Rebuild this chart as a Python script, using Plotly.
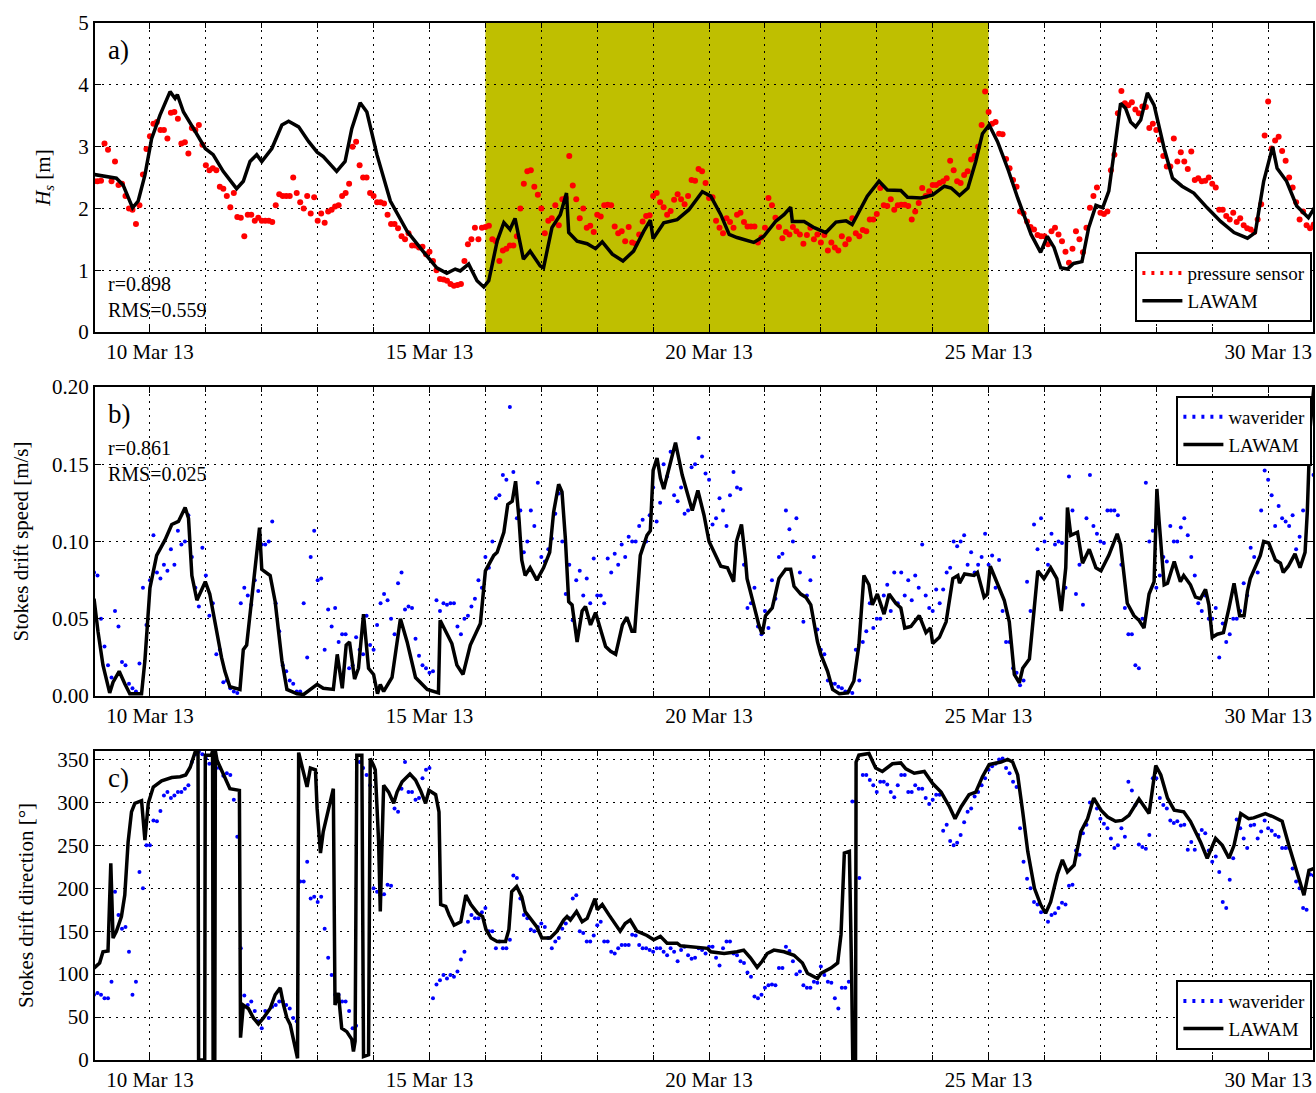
import numpy as np
import pandas as pd
import plotly.graph_objects as go
from plotly.subplots import make_subplots

# ---------------- data (day of March 2013, value) ----------------
lawam_hs_day = [9.0, 9.2, 9.4, 9.52, 9.69, 9.79, 9.91, 10.03, 10.18, 10.36, 10.45, 10.49, 10.6, 10.78, 10.99,
                11.13, 11.31, 11.55, 11.67, 11.79, 11.91, 12.0, 12.18, 12.36, 12.48, 12.66, 12.84, 12.99, 13.1,
                13.34, 13.49, 13.61, 13.76, 13.88, 14.06, 14.3, 14.6, 14.9, 15.13, 15.31, 15.46, 15.55, 15.7,
                15.85, 15.97, 16.06, 16.21, 16.33, 16.44, 16.53, 16.68, 16.8, 16.98, 17.04, 17.19, 17.34, 17.45,
                17.49, 17.64, 17.82, 17.97, 18.09, 18.27, 18.46, 18.65, 18.83, 18.95, 19.0, 19.19, 19.43, 19.64,
                19.88, 20.03, 20.21, 20.36, 20.5, 20.8, 20.98, 21.19, 21.34, 21.46, 21.49, 21.7, 21.88, 22.09,
                22.27, 22.45, 22.56, 22.83, 23.04, 23.19, 23.43, 23.55, 23.79, 24.0, 24.21, 24.33, 24.48, 24.63,
                24.77, 24.89, 25.01, 25.16, 25.34, 25.52, 25.76, 25.93, 26.05, 26.17, 26.29, 26.41, 26.52, 26.67,
                26.79, 26.92, 27.04, 27.15, 27.27, 27.36, 27.45, 27.54, 27.63, 27.72, 27.84, 27.96, 28.14, 28.29,
                28.46, 28.67, 28.91, 29.15, 29.39, 29.63, 29.77, 29.92, 30.08, 30.16, 30.33, 30.51, 30.72, 30.86]
lawam_hs_val = [2.55, 2.52, 2.49, 2.38, 2.01, 2.12, 2.54, 3.13, 3.51, 3.89, 3.78, 3.84, 3.56, 3.29, 2.97,
                2.87, 2.6, 2.32, 2.44, 2.76, 2.87, 2.76, 2.97, 3.35, 3.41, 3.32, 3.08, 2.91, 2.84,
                2.6, 2.76, 3.29, 3.71, 3.56, 2.87, 2.12, 1.63, 1.29, 1.04, 0.95, 1.02, 0.99, 1.10,
                0.83, 0.73, 0.83, 1.47, 1.77, 1.66, 1.84, 1.18, 1.31, 1.07, 1.04, 1.69, 1.9, 2.25,
                1.61, 1.47, 1.43, 1.35, 1.46, 1.26, 1.15, 1.31, 1.63, 1.81, 1.51, 1.77, 1.82, 1.98,
                2.27, 2.2, 1.9, 1.58, 1.53, 1.45, 1.55, 1.79, 1.9, 2.02, 1.79, 1.79, 1.69, 1.61,
                1.78, 1.8, 1.74, 2.2, 2.44, 2.3, 2.29, 2.18, 2.17, 2.22, 2.36, 2.33, 2.21, 2.33,
                2.76, 3.21, 3.35, 3.08, 2.65, 2.17, 1.58, 1.29, 1.55, 1.37, 1.04, 1.02, 1.11, 1.14,
                1.69, 2.05, 2.01, 2.28, 3.08, 3.7, 3.62, 3.4, 3.32, 3.43, 3.87, 3.67, 2.97, 2.49,
                2.36, 2.25, 2.01, 1.79, 1.61, 1.52, 1.61, 2.44, 3.0, 2.65, 2.44, 2.04, 1.85, 2.06]

# pressure sensor Hs, 3-hourly from 9 Mar 00:00 ...
sensor_start_day = 9.0
sensor_hs = [2.44, 2.45, 2.95, 2.76, 2.4, 2.0, 1.75, 2.55,
             3.17, 3.4, 3.27, 3.55, 3.45, 3.07, 3.3, 3.35,
             2.7, 2.65, 2.35, 2.2, 2.25, 1.85, 1.9, 1.8,
             1.8, 1.8, 2.05, 2.2, 2.2, 2.25, 2.0, 1.92,
             1.8, 1.77, 1.98, 2.05, 2.25, 3.0, 2.7, 2.5,
             2.2, 2.1, 1.9, 1.75, 1.55, 1.6, 1.4, 1.38,
             1.3, 1.0, 0.85, 0.78, 0.76, 1.15, 1.5, 1.5,
             1.7, 1.5, 1.15, 1.35, 1.4, 2.0, 2.6, 2.35,
             2.0, 1.8, 2.05, 2.15, 2.85, 2.15, 2.0, 1.72,
             1.9, 2.05, 2.05, 1.6, 1.47, 1.45, 1.58, 1.88,
             2.2, 2.1, 1.9, 2.14, 2.15, 2.2, 2.45, 2.6,
             2.17, 1.8, 1.6, 1.78, 1.9, 1.78, 1.71, 1.45,
             1.69, 2.05, 1.7, 1.62, 1.7, 1.58, 1.57, 1.5,
             1.45, 1.32, 1.37, 1.55, 1.5, 1.6, 1.65, 1.82,
             1.91, 2.05, 2.15, 2.05, 2.06, 1.82, 2.09, 2.2,
             2.38, 2.41, 2.49, 2.62, 2.41, 2.6, 2.85, 3.35,
             3.56, 3.4, 3.2, 2.65, 2.35, 1.92, 1.7, 1.57,
             1.55, 1.63, 1.58, 1.3, 1.35, 1.5, 1.69, 2.2,
             1.93, 1.95, 2.87, 3.9, 3.67, 3.6, 3.65, 3.3,
             3.27, 2.85, 2.68, 2.76, 2.76, 2.92, 2.49, 2.45,
             2.4, 1.98, 1.88, 1.93, 1.84, 1.68, 1.62, 2.07,
             3.73, 3.1, 2.93, 2.5, 2.1, 1.95, 1.68]
# ... and 3-hourly from 9 Mar 01:30
sensor_mid_start_day = 9.0625
sensor_hs_mid = [2.44, 3.05, 2.44, 2.38, 2.2, 1.98, 2.05, 2.96,
                 3.37, 3.27, 3.13, 3.56, 3.05, 2.89, 3.27, 3.03,
                 2.62, 2.62, 2.32, 2.02, 1.86, 1.55, 1.9, 1.85,
                 1.8, 1.78, 2.23, 2.2, 2.5, 2.1, 2.2, 2.18,
                 1.92, 1.95, 2.03, 2.2, 2.4, 3.08, 2.5, 2.25,
                 2.1, 2.08, 1.75, 1.68, 1.5, 1.4, 1.37, 1.26,
                 1.15, 0.86, 0.83, 0.75, 0.78, 1.42, 1.69, 1.69,
                 1.72, 1.47, 1.32, 1.4, 1.55, 2.4, 2.62, 2.22,
                 1.6, 1.84, 1.73, 2.17, 2.37, 1.84, 1.69, 1.62,
                 1.87, 2.06, 1.71, 1.63, 1.7, 1.43, 1.79, 1.89,
                 2.25, 2.02, 1.96, 2.23, 2.07, 2.46, 2.64, 2.41,
                 2.18, 1.69, 1.84, 1.69, 1.93, 1.71, 1.71, 1.53,
                 2.17, 1.85, 1.52, 1.58, 1.63, 1.43, 1.69, 1.58,
                 1.57, 1.45, 1.32, 1.42, 1.84, 1.55, 1.63, 1.82,
                 2.33, 2.04, 1.98, 2.06, 2.04, 1.95, 2.33, 2.28,
                 2.38, 2.44, 2.77, 2.44, 2.54, 2.79, 3.0, 3.89,
                 3.37, 3.21, 2.8, 2.46, 1.95, 1.79, 1.66, 1.55,
                 1.42, 1.69, 1.47, 1.12, 1.63, 1.29, 2.01, 2.34,
                 1.91, 2.62, 3.54, 3.7, 3.72, 3.54, 3.64, 3.37,
                 3.11, 2.68, 3.13, 2.91, 2.64, 2.46, 2.44, 2.5,
                 2.34, 1.98, 1.82, 1.78, 1.73, 1.66, 1.82, 3.18,
                 2.97, 3.16, 2.77, 2.34, 1.82, 1.73, 1.74]

lawam_sp_day = [9.0, 9.07, 9.16, 9.28, 9.34, 9.45, 9.55, 9.64, 9.85, 9.91, 10.0, 10.12, 10.27, 10.39, 10.51,
                10.63, 10.69, 10.75, 10.84, 10.99, 11.07, 11.16, 11.28, 11.34, 11.43, 11.61, 11.67, 11.73,
                11.85, 11.96, 12.0, 12.15, 12.24, 12.36, 12.45, 12.63, 12.75, 12.99, 13.1, 13.28, 13.35,
                13.44, 13.51, 13.57, 13.66, 13.73, 13.82, 13.91, 14.0, 14.07, 14.12, 14.18, 14.33, 14.48,
                14.6, 14.75, 14.96, 15.16, 15.19, 15.28, 15.4, 15.49, 15.6, 15.73, 15.91, 16.0, 16.15,
                16.21, 16.33, 16.4, 16.48, 16.54, 16.6, 16.65, 16.71, 16.8, 16.92, 17.04, 17.15, 17.22,
                17.31, 17.37, 17.43, 17.49, 17.55, 17.64, 17.73, 17.79, 17.88, 17.97, 18.03, 18.15, 18.24,
                18.33, 18.45, 18.53, 18.62, 18.67, 18.77, 18.89, 18.95, 19.0, 19.07, 19.13, 19.19, 19.28,
                19.4, 19.52, 19.61, 19.7, 19.8, 19.91, 20.0, 20.09, 20.21, 20.33, 20.44, 20.49, 20.58,
                20.65, 20.68, 20.8, 20.89, 20.95, 21.01, 21.13, 21.25, 21.37, 21.46, 21.52, 21.64, 21.73,
                21.82, 21.94, 22.0, 22.12, 22.21, 22.33, 22.48, 22.59, 22.68, 22.77, 22.86, 22.92, 23.01,
                23.13, 23.22, 23.34, 23.43, 23.5, 23.61, 23.76, 23.88, 23.96, 24.0, 24.12, 24.24, 24.36,
                24.45, 24.48, 24.57, 24.74, 24.8, 24.92, 24.98, 25.03, 25.1, 25.19, 25.28, 25.37, 25.46,
                25.55, 25.61, 25.73, 25.82, 25.88, 25.99, 26.11, 26.22, 26.3, 26.38, 26.41, 26.47, 26.59,
                26.68, 26.8, 26.92, 27.01, 27.15, 27.3, 27.36, 27.48, 27.6, 27.69, 27.78, 27.87, 27.96,
                28.01, 28.05, 28.14, 28.2, 28.32, 28.43, 28.49, 28.61, 28.7, 28.79, 28.88, 28.94, 29.0,
                29.09, 29.2, 29.3, 29.39, 29.49, 29.57, 29.63, 29.68, 29.74, 29.86, 29.92, 30.01, 30.13,
                30.22, 30.27, 30.36, 30.48, 30.57, 30.66, 30.7, 30.75, 30.82]
lawam_sp_val = [0.063, 0.042, 0.020, 0.002, 0.009, 0.016, 0.008, 0.0015, 0.0015, 0.023, 0.07, 0.091, 0.101,
                0.111, 0.113, 0.122, 0.115, 0.078, 0.062, 0.074, 0.066, 0.048, 0.025, 0.016, 0.006, 0.0043,
                0.030, 0.033, 0.074, 0.109, 0.082, 0.078, 0.061, 0.023, 0.0043, 0.0015, 0.001, 0.0075,
                0.005, 0.0043, 0.027, 0.005, 0.033, 0.035, 0.011, 0.018, 0.053, 0.018, 0.014, 0.0015,
                0.0075, 0.003, 0.012, 0.05, 0.035, 0.012, 0.0043, 0.002, 0.049, 0.042, 0.034, 0.020, 0.014,
                0.033, 0.047, 0.081, 0.091, 0.093, 0.106, 0.124, 0.126, 0.139, 0.115, 0.088, 0.078, 0.083,
                0.075, 0.083, 0.093, 0.119, 0.137, 0.132, 0.102, 0.061, 0.059, 0.035, 0.055, 0.058, 0.046,
                0.054, 0.046, 0.032, 0.029, 0.027, 0.046, 0.051, 0.042, 0.042, 0.091, 0.104, 0.107, 0.146,
                0.154, 0.141, 0.134, 0.147, 0.164, 0.143, 0.132, 0.120, 0.133, 0.117, 0.100, 0.093, 0.084,
                0.083, 0.074, 0.100, 0.111, 0.089, 0.076, 0.059, 0.046, 0.040, 0.052, 0.057, 0.076, 0.082,
                0.082, 0.071, 0.066, 0.064, 0.059, 0.035, 0.027, 0.016, 0.0043, 0.0015, 0.002, 0.0097,
                0.033, 0.078, 0.072, 0.059, 0.066, 0.053, 0.066, 0.060, 0.057, 0.044, 0.045, 0.052, 0.041,
                0.044, 0.034, 0.038, 0.048, 0.076, 0.078, 0.073, 0.079, 0.078, 0.080, 0.064, 0.066, 0.084,
                0.078, 0.069, 0.062, 0.048, 0.014, 0.0086, 0.018, 0.024, 0.057, 0.081, 0.076, 0.083, 0.076,
                0.055, 0.083, 0.122, 0.104, 0.106, 0.086, 0.095, 0.083, 0.081, 0.091, 0.105, 0.098, 0.060,
                0.052, 0.049, 0.044, 0.066, 0.074, 0.134, 0.113, 0.072, 0.073, 0.087, 0.074, 0.078, 0.072,
                0.064, 0.063, 0.069, 0.059, 0.038, 0.040, 0.041, 0.057, 0.073, 0.052, 0.052, 0.068, 0.076,
                0.081, 0.091, 0.1, 0.099, 0.088, 0.086, 0.080, 0.084, 0.092, 0.083, 0.093, 0.119, 0.173,
                0.201]

# waverider Stokes drift speed, 3-hourly from 9 Mar 00:00 ...
wr_start_day = 9.0
wr_speed = [0.08, 0.05, 0.02, 0.055, 0.022, 0.008, 0.003, 0.07,
            0.075, 0.08, 0.085, 0.095, 0.107, 0.1, 0.09, 0.058,
            0.078, 0.06, 0.03, 0.01, 0.003, 0.06, 0.065, 0.075,
            0.098, 0.1, 0.06, 0.02, 0.01, 0.003, 0.06, 0.09,
            0.075, 0.03, 0.045, 0.035, 0.04, 0.02, 0.03, 0.052,
            0.03, 0.06, 0.062, 0.04, 0.08, 0.058, 0.037, 0.02,
            0.015, 0.062, 0.06, 0.06, 0.045, 0.05, 0.058, 0.075,
            0.09, 0.1, 0.13, 0.14, 0.145, 0.12, 0.1, 0.11,
            0.09, 0.095, 0.118, 0.1, 0.085, 0.075, 0.065, 0.06,
            0.065, 0.06, 0.08, 0.085, 0.09, 0.1, 0.11, 0.1,
            0.135, 0.125, 0.142, 0.13, 0.135, 0.12, 0.15, 0.155,
            0.14, 0.115, 0.12, 0.13, 0.135, 0.085, 0.06, 0.045,
            0.055, 0.075, 0.09, 0.12, 0.1, 0.08, 0.065, 0.09,
            0.03, 0.01, 0.008, 0.005, 0.003, 0.03, 0.035, 0.06,
            0.05, 0.065, 0.055, 0.06, 0.065, 0.062, 0.07, 0.065,
            0.055, 0.06, 0.08, 0.1, 0.1, 0.085, 0.08, 0.09,
            0.085, 0.07, 0.055, 0.035, 0.015, 0.01, 0.055, 0.095,
            0.1, 0.105, 0.1, 0.07, 0.12, 0.085, 0.115, 0.11,
            0.1, 0.12, 0.12, 0.085, 0.04, 0.02, 0.05, 0.1,
            0.07, 0.09, 0.11, 0.1, 0.115, 0.09, 0.06, 0.065,
            0.05, 0.025, 0.035, 0.05, 0.055, 0.065, 0.09, 0.12,
            0.14, 0.11, 0.115, 0.11, 0.095, 0.12, 0.155]
# ... and 3-hourly from 9 Mar 01:30
wr_mid_start_day = 9.0625
wr_speed_mid = [0.078, 0.032, 0.012, 0.045, 0.02, 0.005, 0.021, 0.046,
                0.104, 0.076, 0.081, 0.085, 0.098, 0.117, 0.07, 0.096,
                0.052, 0.027, 0.009, 0.005, 0.002, 0.07, 0.059, 0.068,
                0.098, 0.113, 0.042, 0.016, 0.008, 0.003, 0.025, 0.107,
                0.076, 0.056, 0.057, 0.04, 0.018, 0.038, 0.027, 0.033,
                0.046, 0.066, 0.05, 0.073, 0.056, 0.057, 0.026, 0.018,
                0.016, 0.055, 0.059, 0.06, 0.04, 0.052, 0.063, 0.07,
                0.083, 0.128, 0.143, 0.187, 0.115, 0.093, 0.12, 0.138,
                0.087, 0.102, 0.131, 0.066, 0.049, 0.081, 0.076, 0.089,
                0.065, 0.089, 0.092, 0.098, 0.103, 0.1, 0.114, 0.117,
                0.113, 0.15, 0.158, 0.126, 0.118, 0.148, 0.167, 0.144,
                0.111, 0.128, 0.11, 0.145, 0.134, 0.057, 0.07, 0.04,
                0.044, 0.063, 0.092, 0.108, 0.115, 0.048, 0.075, 0.043,
                0.027, 0.008, 0.006, 0.003, 0.002, 0.01, 0.042, 0.044,
                0.05, 0.072, 0.08, 0.08, 0.075, 0.078, 0.098, 0.057,
                0.069, 0.069, 0.083, 0.097, 0.104, 0.093, 0.085, 0.105,
                0.091, 0.088, 0.035, 0.018, 0.007, 0.074, 0.111, 0.115,
                0.085, 0.098, 0.099, 0.142, 0.066, 0.059, 0.143, 0.105,
                0.099, 0.12, 0.117, 0.057, 0.04, 0.018, 0.138, 0.107,
                0.078, 0.087, 0.1, 0.109, 0.104, 0.078, 0.055, 0.05,
                0.057, 0.047, 0.04, 0.05, 0.073, 0.096, 0.08, 0.146,
                0.13, 0.123, 0.113, 0.117, 0.103, 0.171, 0.143]

lawam_dir_day = [9.0, 9.1, 9.16, 9.25, 9.3, 9.34, 9.4, 9.49, 9.55, 9.61, 9.67, 9.73, 9.85, 9.91, 9.97, 10.06,
                 10.21, 10.39, 10.54, 10.64, 10.72, 10.81, 10.86, 10.87, 10.98, 10.99, 11.1, 11.12, 11.13,
                 11.16, 11.17, 11.2, 11.32, 11.43, 11.6, 11.62, 11.67, 11.76, 11.85, 11.94, 12.03, 12.15,
                 12.24, 12.33, 12.39, 12.45, 12.51, 12.64, 12.66, 12.75, 12.81, 12.87, 12.96, 12.99, 13.05,
                 13.1, 13.19, 13.28, 13.31, 13.37, 13.43, 13.52, 13.61, 13.64, 13.67, 13.7, 13.79, 13.82,
                 13.91, 13.94, 14.0, 14.03, 14.09, 14.12, 14.15, 14.18, 14.27, 14.36, 14.42, 14.51, 14.65,
                 14.75, 14.84, 14.93, 14.99, 15.11, 15.17, 15.2, 15.29, 15.35, 15.44, 15.56, 15.65, 15.74,
                 15.86, 15.95, 16.01, 16.1, 16.21, 16.36, 16.42, 16.47, 16.56, 16.65, 16.71, 16.83, 16.92,
                 17.01, 17.16, 17.28, 17.4, 17.46, 17.52, 17.63, 17.73, 17.82, 17.91, 17.96, 18.0, 18.09,
                 18.21, 18.33, 18.41, 18.5, 18.59, 18.71, 18.89, 19.01, 19.13, 19.25, 19.43, 19.49, 19.67,
                 19.97, 20.03, 20.27, 20.5, 20.62, 20.74, 20.86, 20.95, 21.04, 21.16, 21.34, 21.52, 21.67,
                 21.76, 21.94, 22.0, 22.12, 22.18, 22.3, 22.36, 22.42, 22.51, 22.55, 22.57, 22.62, 22.63,
                 22.68, 22.86, 22.98, 23.1, 23.28, 23.43, 23.52, 23.67, 23.85, 24.0, 24.15, 24.3, 24.4,
                 24.51, 24.65, 24.77, 24.89, 25.01, 25.22, 25.34, 25.43, 25.52, 25.61, 25.7, 25.82, 25.93,
                 26.02, 26.11, 26.23, 26.32, 26.41, 26.53, 26.65, 26.77, 26.88, 27.01, 27.13, 27.27, 27.39,
                 27.51, 27.69, 27.81, 27.87, 27.99, 28.08, 28.2, 28.32, 28.49, 28.61, 28.79, 28.91, 29.06,
                 29.18, 29.3, 29.39, 29.51, 29.65, 29.74, 29.95, 30.1, 30.25, 30.37, 30.52, 30.64, 30.73,
                 30.86]
lawam_dir_val = [107, 113, 126, 127, 229, 142, 150, 167, 192, 254, 289, 299, 302, 256, 299, 318,
                 325, 329, 330, 332, 341, 359, 359, 0, 0, 355, 355, 360, 0,
                 0, 360, 349, 332, 316, 314, 26, 64, 60, 49, 42, 49, 60,
                 76, 84, 64, 49, 41, 2, 358, 336, 318, 340, 338, 293, 241,
                 266, 289, 316, 64, 78, 37, 33, 24, 10, 22, 355, 355, 4,
                 6, 351, 343, 338, 254, 173, 250, 320, 312, 299, 312, 324, 333,
                 326, 314, 299, 314, 309, 289, 181, 179, 169, 157, 161, 192, 181,
                 171, 167, 152, 142, 138, 138, 152, 196, 202, 190, 173, 163, 155,
                 142, 142, 150, 163, 167, 163, 173, 161, 165, 181, 188, 175, 181,
                 169, 157, 150, 159, 163, 150, 145, 140, 144, 136, 136, 133, 132,
                 130, 126, 124, 126, 128, 119, 108, 115, 124, 128, 126, 122, 113,
                 101, 95, 101, 105, 107, 113, 146, 241, 243, 100, 2, 2, 347,
                 355, 357, 340, 336, 345, 346, 339, 334, 336, 322, 312, 295, 281,
                 295, 309, 312, 330, 344, 347, 350, 347, 332, 289, 243, 200, 181,
                 171, 184, 216, 233, 219, 227, 266, 281, 305, 291, 283, 278, 279,
                 285, 304, 293, 287, 343, 332, 305, 291, 289, 278, 254, 235, 258,
                 250, 235, 250, 287, 281, 282, 287, 283, 278, 250, 216, 192, 221,
                 224]

# waverider Stokes drift direction, 3-hourly from 9 Mar 00:00 ...
wr_direction = [76, 76, 72, 196, 153, 126, 91, 200,
                250, 278, 308, 305, 312, 316, 347, 359,
                351, 347, 340, 334, 303, 130, 64, 57,
                37, 49, 64, 68, 60, 45, 208, 188,
                184, 153, 99, 76, 68, 37, 347, 332,
                200, 192, 204, 293, 316, 312, 303, 328,
                340, 88, 99, 99, 103, 126, 169, 165,
                177, 150, 138, 130, 215, 188, 165, 150,
                159, 142, 138, 153, 165, 192, 148, 138,
                157, 138, 126, 130, 134, 146, 134, 130,
                126, 130, 122, 126, 128, 122, 119, 128,
                132, 119, 130, 138, 122, 113, 97, 72,
                84, 88, 107, 132, 115, 103, 84, 91,
                109, 91, 72, 84, 91, 301, 332, 326,
                312, 324, 312, 320, 332, 312, 316, 305,
                303, 309, 274, 250, 262, 289, 307, 320,
                338, 345, 351, 334, 318, 231, 200, 181,
                173, 169, 177, 181, 204, 239, 274, 301,
                281, 270, 247, 270, 324, 297, 248, 262,
                328, 297, 279, 278, 274, 254, 262, 264,
                231, 219, 177, 235, 270, 247, 274, 266,
                270, 262, 247, 247, 208, 177, 216]
# ... and 3-hourly from 9 Mar 01:30
wr_direction_mid = [78, 72, 91, 169, 155, 76, 219, 250,
                    279, 290, 312, 308, 312, 320, 356, 356,
                    345, 340, 331, 332, 260, 75, 68, 45,
                    57, 62, 68, 64, 49, 208, 231, 190,
                    190, 119, 76, 68, 57, 40, 340, 320,
                    196, 193, 203, 289, 347, 312, 305, 338,
                    72, 93, 95, 97, 117, 161, 165, 172,
                    150, 130, 130, 140, 212, 169, 152, 155,
                    155, 130, 142, 159, 188, 150, 138, 145,
                    161, 138, 124, 134, 134, 145, 130, 128,
                    130, 126, 130, 115, 132, 118, 130, 124,
                    132, 110, 138, 124, 115, 102, 74, 76,
                    87, 87, 107, 127, 100, 87, 84, 90,
                    99, 90, 60, 84, 301, 212, 332, 320,
                    324, 321, 306, 332, 312, 320, 316, 298,
                    309, 267, 255, 253, 277, 293, 312, 328,
                    342, 350, 340, 324, 270, 211, 184, 172,
                    161, 171, 183, 203, 244, 264, 300, 293,
                    275, 258, 250, 260, 314, 251, 246, 328,
                    305, 293, 276, 273, 245, 245, 268, 244,
                    237, 184, 210, 280, 258, 273, 258, 279,
                    267, 260, 247, 223, 200, 175, 215]

stats_a = "r=0.898<br>RMS=0.559"
stats_b = "r=0.861<br>RMS=0.025"
shade_start, shade_end = "2013-03-16", "2013-03-25"
x_ticks = ["2013-03-10", "2013-03-15", "2013-03-20", "2013-03-25", "2013-03-30"]

# ---------------- helpers ----------------
BASE = pd.Timestamp("2013-03-01")


def to_time(days):
    return BASE + pd.to_timedelta(np.asarray(days, dtype=float) - 1.0, unit="D")


def regular_time(start_day, n, step_h=3):
    return BASE + pd.to_timedelta(start_day - 1.0, unit="D") + pd.to_timedelta(np.arange(n) * step_h, unit="h")


def both(start_a, vals_a, start_b, vals_b):
    t = list(regular_time(start_a, len(vals_a))) + list(regular_time(start_b, len(vals_b)))
    return t, list(vals_a) + list(vals_b)


FONT = "Liberation Serif, Times New Roman, serif"
LW = 3.5

fig = make_subplots(rows=3, cols=1, shared_xaxes=False, vertical_spacing=0.0)

# Panel a
xs, ys = both(sensor_start_day, sensor_hs, sensor_mid_start_day, sensor_hs_mid)
fig.add_trace(go.Scatter(x=xs, y=ys, mode="markers", marker=dict(color="#ff0000", size=6),
                         showlegend=False), row=1, col=1)
fig.add_trace(go.Scatter(x=to_time(lawam_hs_day), y=lawam_hs_val, mode="lines",
                         line=dict(color="black", width=LW), showlegend=False), row=1, col=1)
# Panel b
xs, ys = both(wr_start_day, wr_speed, wr_mid_start_day, wr_speed_mid)
fig.add_trace(go.Scatter(x=xs, y=ys, mode="markers", marker=dict(color="#0000ff", size=4),
                         showlegend=False), row=2, col=1)
fig.add_trace(go.Scatter(x=to_time(lawam_sp_day), y=lawam_sp_val, mode="lines",
                         line=dict(color="black", width=LW), showlegend=False), row=2, col=1)
# Panel c
xs, ys = both(wr_start_day, wr_direction, wr_mid_start_day, wr_direction_mid)
fig.add_trace(go.Scatter(x=xs, y=ys, mode="markers", marker=dict(color="#0000ff", size=4),
                         showlegend=False), row=3, col=1)
fig.add_trace(go.Scatter(x=to_time(lawam_dir_day), y=lawam_dir_val, mode="lines",
                         line=dict(color="black", width=LW), showlegend=False), row=3, col=1)

# legend entries
for lg, name, col, row in [("legend", "pressure sensor", "#ff0000", 1),
                           ("legend2", "waverider", "#0000ff", 2),
                           ("legend3", "waverider", "#0000ff", 3)]:
    fig.add_trace(go.Scatter(x=[None], y=[None], mode="lines", name=name, legend=lg,
                             line=dict(color=col, width=4, dash="3px,6px")), row=row, col=1)
    fig.add_trace(go.Scatter(x=[None], y=[None], mode="lines", name="LAWAM", legend=lg,
                             line=dict(color="black", width=LW)), row=row, col=1)

# layout
plot_top, plot_bottom = 23, 1063
H = 1093
span = plot_bottom - plot_top


def dom(top_px, bot_px):
    return [(plot_bottom - bot_px) / span, (plot_bottom - top_px) / span]


domains = [dom(23, 333), dom(388, 698), dom(753, 1063)]
x_range = ["2013-03-09 00:25", "2013-03-30 19:15"]
GRID_DASH = "2px,5px"

for i, d in enumerate(domains, start=1):
    fig.update_xaxes(row=i, col=1, range=x_range, type="date",
                     tickvals=x_ticks,
                     tickformat="%-d %b %y", ticks="inside", ticklen=6, tickwidth=1, tickcolor="black",
                     showline=True, linecolor="black", linewidth=2, mirror="allticks",
                     showgrid=True, gridcolor="black", griddash=GRID_DASH, gridwidth=1,
                     minor=dict(dtick=86400000, tick0="2013-03-01", showgrid=True, gridcolor="black",
                                griddash=GRID_DASH, gridwidth=1, ticks="inside", ticklen=5, tickcolor="black"),
                     tickfont=dict(family=FONT, size=21, color="black"), zeroline=False)
    fig.update_yaxes(row=i, col=1, domain=d, ticks="inside", ticklen=6, tickcolor="black",
                     showline=True, linecolor="black", linewidth=2, mirror="allticks",
                     showgrid=True, gridcolor="black", griddash=GRID_DASH, gridwidth=1,
                     tickfont=dict(family=FONT, size=21, color="black"), zeroline=False,
                     title_font=dict(family=FONT, size=21, color="black"))

fig.update_yaxes(row=1, col=1, range=[0, 5], dtick=1, title_text="<i>H<sub>s</sub></i> [m]", title_standoff=22)
fig.update_yaxes(row=2, col=1, range=[0, 0.2], dtick=0.05, tickformat=".2f",
                 title_text="Stokes drift speed [m/s]", title_standoff=18)
fig.update_yaxes(row=3, col=1, range=[0, 360], tickvals=[0, 50, 100, 150, 200, 250, 300, 350],
                 title_text="Stokes drift direction [°]", title_standoff=18)

# shaded period
fig.add_shape(type="rect", xref="x", yref="y domain", x0=shade_start, x1=shade_end, y0=0, y1=1,
              fillcolor="#bfbf00", line=dict(width=0), layer="below")

# panel labels and statistics
ann_font = dict(family=FONT, color="black")
for ax, lab, ylab in [("", "a)", 0.913), ("2", "b)", 0.912), ("3", "c)", 0.912)]:
    fig.add_annotation(xref=f"x{ax} domain", yref=f"y{ax} domain", x=0.009, y=ylab, text=lab,
                       showarrow=False, xanchor="left", yanchor="middle", font=dict(size=27, **ann_font))
fig.add_annotation(xref="x domain", yref="y domain", x=0.009, y=0.113, text=stats_a, showarrow=False,
                   xanchor="left", yanchor="middle", align="left", font=dict(size=20, **ann_font))
fig.add_annotation(xref="x2 domain", yref="y2 domain", x=0.009, y=0.76, text=stats_b, showarrow=False,
                   xanchor="left", yanchor="middle", align="left", font=dict(size=20, **ann_font))

leg_common = dict(bgcolor="white", bordercolor="black", borderwidth=2, xanchor="right", x=0.9995,
                  font=dict(family=FONT, size=19, color="black"), tracegroupgap=0, itemwidth=40)
fig.update_layout(
    width=1316, height=H,
    margin=dict(l=95, r=1, t=plot_top, b=H - plot_bottom),
    plot_bgcolor="white", paper_bgcolor="white",
    font=dict(family=FONT, color="black"),
    legend=dict(y=(plot_bottom - 323) / span, yanchor="bottom", **leg_common),
    legend2=dict(y=(plot_bottom - 397) / span, yanchor="top", **leg_common),
    legend3=dict(y=(plot_bottom - 1053) / span, yanchor="bottom", **leg_common),
)

fig.write_html("out.html", config={"displayModeBar": False},
               post_script="document.body.style.margin='0px';document.body.style.overflow='hidden';")
